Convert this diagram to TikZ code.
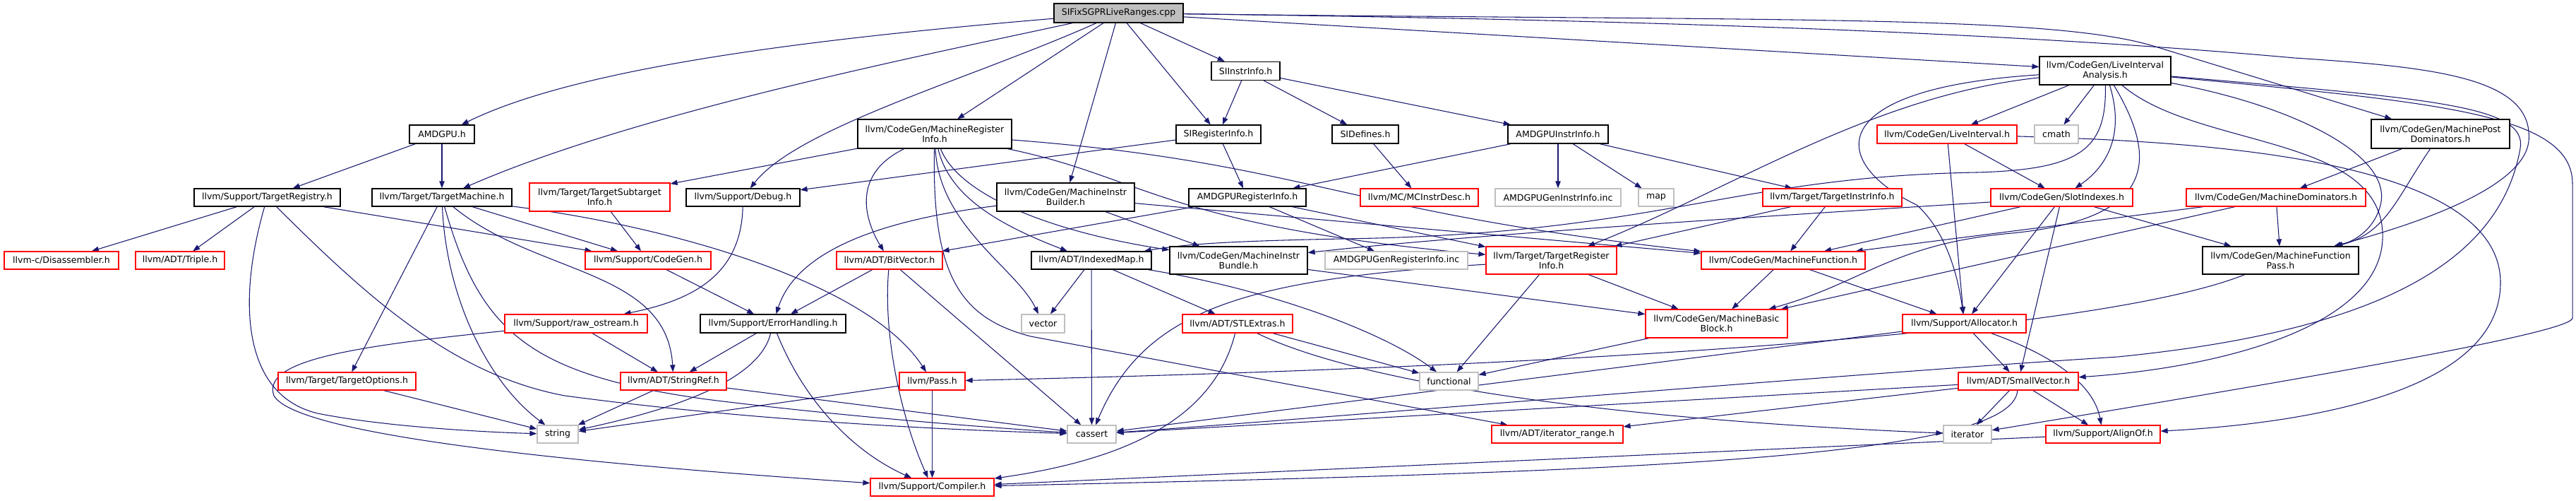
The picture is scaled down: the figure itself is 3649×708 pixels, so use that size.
\documentclass[tikz,border=0pt]{standalone}
\usepackage{fontspec}
\setmainfont{DejaVu Sans}
\usetikzlibrary{arrows.meta}
\pgfdeclarelayer{edgelayer}
\pgfsetlayers{edgelayer,main}
\newdimen\pxu \pxu=0.75pt
\newcommand\dxf{\fontsize{9.4}{10.5}\selectfont}
\definecolor{edgec}{HTML}{191970}
\definecolor{gbord}{HTML}{BFBFBF}
\tikzset{
 nb/.style={draw=black, fill=white, line width=0.9pt, inner sep=0pt, align=center, font=\dxf},
 nr/.style={nb, draw=red},
 ng/.style={nb, draw=gbord},
 bx/.style 2 args={minimum width=#1\pxu, minimum height=#2\pxu},
 e/.style={draw=edgec, line width=0.8pt, -{Triangle[length=7.5pt,width=5.5pt]}},
}
\begin{document}
\begin{tikzpicture}[x=0.75pt,y=-0.75pt]
\begin{pgfonlayer}{edgelayer}
\fill[white] (0,0) rectangle (3649,708);
\end{pgfonlayer}
\useasboundingbox (0,0) rectangle (3649,708);
% nodes
\node[nb, fill=gbord, bx={183}{27}] (R) at (1584.5,18.5) {SIFixSGPRLiveRanges.cpp};
\node[nb, bx={92}{26}] (AMD) at (626,190) {AMDGPU.h};
\node[nb, bx={207}{25}] (TR) at (378.5,279.5) {llvm/Support/TargetRegistry.h};
\node[nb, bx={198}{25}] (TM) at (626,279.5) {llvm/Target/TargetMachine.h};
\node[nr, bx={199}{40}] (TSI) at (849.5,279) {llvm/Target/TargetSubtarget\\Info.h};
\node[nb, bx={161}{25}] (DBG) at (1052.5,279.5) {llvm/Support/Debug.h};
\node[nb, bx={218}{41}] (MRI) at (1324,189.5) {llvm/CodeGen/MachineRegister\\Info.h};
\node[nb, bx={97}{26}] (SII) at (1764.5,100.5) {SIInstrInfo.h};
\node[nb, bx={120}{26}] (SRI) at (1726,190) {SIRegisterInfo.h};
\node[nb, bx={94}{26}] (SID) at (1934,190) {SIDefines.h};
\node[nb, bx={142}{26}] (AII) at (2207,190) {AMDGPUInstrInfo.h};
\node[nb, bx={195}{40}] (MIB) at (1509.5,279) {llvm/CodeGen/MachineInstr\\Builder.h};
\node[nb, bx={166}{25}] (ARI) at (1767,279.5) {AMDGPURegisterInfo.h};
\node[nr, bx={167}{25}] (MCID) at (2010.5,279.5) {llvm/MC/MCInstrDesc.h};
\node[ng, bx={178}{25}] (AGII) at (2207,279.5) {AMDGPUGenInstrInfo.inc};
\node[ng, bx={50}{25}] (MAP) at (2346,279.5) {map};
\node[nb, bx={186}{40}] (LIA) at (2982,100) {llvm/CodeGen/LiveInterval\\Analysis.h};
\node[nr, bx={198}{26}] (LI) at (2758,190) {llvm/CodeGen/LiveInterval.h};
\node[ng, bx={62}{26}] (CMATH) at (2913,190) {cmath};
\node[nb, bx={196}{41}] (MPD) at (3457,189.5) {llvm/CodeGen/MachinePost\\Dominators.h};
\node[nr, bx={197}{25}] (TII) at (2595.5,279.5) {llvm/Target/TargetInstrInfo.h};
\node[nr, bx={201}{25}] (SLOT) at (2920.5,279.5) {llvm/CodeGen/SlotIndexes.h};
\node[nr, bx={254}{25}] (MDOM) at (3224,279.5) {llvm/CodeGen/MachineDominators.h};
\node[nr, bx={162}{25}] (DIS) at (87,368.5) {llvm-c/Disassembler.h};
\node[nr, bx={126}{25}] (TRIP) at (255,368.5) {llvm/ADT/Triple.h};
\node[nr, bx={178}{25}] (CG) at (918,368.5) {llvm/Support/CodeGen.h};
\node[nr, bx={150}{25}] (BV) at (1260,368.5) {llvm/ADT/BitVector.h};
\node[nb, bx={170}{25}] (IM) at (1546,368.5) {llvm/ADT/IndexedMap.h};
\node[nb, bx={195}{39}] (MIBUN) at (1754.5,368.5) {llvm/CodeGen/MachineInstr\\Bundle.h};
\node[ng, bx={202}{25}] (AGRI) at (1978,368.5) {AMDGPUGenRegisterInfo.inc};
\node[nr, bx={185}{39}] (TRI) at (2197.5,368.5) {llvm/Target/TargetRegister\\Info.h};
\node[nr, bx={232}{25}] (MF) at (2526,368.5) {llvm/CodeGen/MachineFunction.h};
\node[nb, bx={221}{39}] (MFP) at (3230.5,368.5) {llvm/CodeGen/MachineFunction\\Pass.h};
\node[nr, bx={202}{26}] (RAW) at (816,458) {llvm/Support/raw\_ostream.h};
\node[nb, bx={206}{26}] (EH) at (1095,458) {llvm/Support/ErrorHandling.h};
\node[ng, bx={61}{26}] (VEC) at (1477.5,458) {vector};
\node[nr, bx={156}{26}] (STL) at (1753,458) {llvm/ADT/STLExtras.h};
\node[nr, bx={201}{40}] (MBB) at (2431.5,458) {llvm/CodeGen/MachineBasic\\Block.h};
\node[nr, bx={175}{26}] (ALLOC) at (2782.5,458) {llvm/Support/Allocator.h};
\node[nr, bx={195}{25}] (TO) at (491.5,539.5) {llvm/Target/TargetOptions.h};
\node[nr, bx={150}{25}] (SR) at (954,539.5) {llvm/ADT/StringRef.h};
\node[nr, bx={93}{25}] (PASS) at (1320.5,539.5) {llvm/Pass.h};
\node[ng, bx={83}{25}] (FUNC) at (2052.5,539.5) {functional};
\node[nr, bx={170}{25}] (SV) at (2859,539.5) {llvm/ADT/SmallVector.h};
\node[ng, bx={58}{25}] (STR) at (790,614.5) {string};
\node[ng, bx={69}{25}] (CASS) at (1546.5,614.5) {cassert};
\node[nr, bx={186}{25}] (ITR) at (2206,614.5) {llvm/ADT/iterator\_range.h};
\node[ng, bx={68}{25}] (ITER) at (2787,614.5) {iterator};
\node[nr, bx={162}{25}] (ALIGN) at (2979,614.5) {llvm/Support/AlignOf.h};
\node[nr, bx={175}{25}] (COMP) at (1320.5,689.5) {llvm/Support/Compiler.h};
\begin{pgfonlayer}{edgelayer}
% edges from root
\draw[e] (R) .. controls (1150,55) and (820,95) .. (AMD);
\draw[e] (R) .. controls (1300,80) and (900,160) .. (TM);
\draw[e] (R) .. controls (1380,110) and (1130,180) .. (DBG);
\draw[e] (R) -- (MRI);
\draw[e] (R) -- (MIB);
\draw[e] (R) -- (SRI);
\draw[e] (R) -- (SII);
\draw[e] (R) -- (LIA);
\draw[e] (R) .. controls (2500,30) and (2900,20) .. (3050,65) -- (MPD);
\draw[e] (R) .. controls (2500,30) and (2950,55) .. (3250,82) .. controls (3450,95) and (3590,110) .. (3582,200) .. controls (3575,260) and (3450,310) .. (MFP);
% LiveIntervalAnalysis
\draw[e] (LIA) -- (LI);
\draw[e] (LIA) -- (CMATH);
\draw[e] (LIA) .. controls (3010,190) and (2985,235) .. (SLOT);
\draw[e] (LIA) .. controls (2984,210) and (2950,240) .. (2800,244) .. controls (2450,250) and (2350,332) .. (1900,338) .. controls (1750,341) and (1680,345) .. (IM);
\draw[e] (LIA) .. controls (2650,135) and (2450,270) .. (TRI);
\draw[e] (LIA) .. controls (2580,125) and (2590,230) .. (2715,290) .. controls (2760,330) and (2775,400) .. (ALLOC);
\draw[e] (LIA) .. controls (3060,230) and (3050,310) .. (2850,330) .. controls (2680,345) and (2640,400) .. (MBB);
\draw[e] (LIA) .. controls (3250,150) and (3390,220) .. (3372,290) .. controls (3365,320) and (3340,340) .. (MFP);
\draw[e] (LIA) .. controls (3450,145) and (3644,160) .. (3644,260) -- (3644,450) .. controls (3644,470) and (3300,530) .. (ITER);
\draw[e] (LIA) .. controls (3450,140) and (3580,150) .. (3570,210) .. controls (3540,380) and (3350,470) .. (3000,505) .. controls (2600,530) and (1900,590) .. (CASS);
\draw[e] (LIA) .. controls (3110,210) and (3370,190) .. (3375,330) .. controls (3380,460) and (3150,520) .. (SV);
% LiveInterval
\draw[e] (LI) -- (SLOT);
\draw[e] (LI) -- (ALLOC);
\draw[e] (LI) .. controls (3100,200) and (3542,220) .. (3542,400) .. controls (3542,560) and (3250,600) .. (ALIGN);
% post dominators, dominators
\draw[e] (MPD) -- (MDOM);
\draw[e] (MPD) .. controls (3395,280) and (3380,330) .. (MFP);
\draw[e] (MDOM) -- (MF);
\draw[e] (MDOM) -- (MBB);
\draw[e] (MDOM) -- (MFP);
% slot indexes
\draw[e] (SLOT) -- (MF);
\draw[e] (SLOT) -- (MFP);
\draw[e] (SLOT) -- (ALLOC);
\draw[e] (SLOT) -- (SV);
\draw[e] (SLOT) .. controls (2600,300) and (2100,330) .. (MIBUN);
% instr info
\draw[e] (TII) -- (TRI);
\draw[e] (TII) -- (MF);
\draw[e] (AII) -- (ARI);
\draw[e] (AII) -- (AGII);
\draw[e] (AII) -- (MAP);
\draw[e] (AII) -- (TII);
\draw[e] (SII) -- (SRI);
\draw[e] (SII) -- (SID);
\draw[e] (SII) -- (AII);
\draw[e] (SRI) -- (DBG);
\draw[e] (SRI) -- (ARI);
\draw[e] (SID) -- (MCID);
\draw[e] (ARI) -- (BV);
\draw[e] (ARI) -- (AGRI);
\draw[e] (ARI) -- (TRI);
% instr builder
\draw[e] (MIB) -- (MIBUN);
\draw[e] (MIB) -- (MF);
\draw[e] (MIB) .. controls (1260,310) and (1130,350) .. (EH);
% machine register info
\draw[e] (MRI) -- (TSI);
\draw[e] (MRI) .. controls (1200,250) and (1230,320) .. (BV);
\draw[e] (MRI) .. controls (1345,280) and (1420,320) .. (IM);
\draw[e] (MRI) .. controls (1330,320) and (1440,380) .. (VEC);
\draw[e] (MRI) .. controls (1320,390) and (1360,450) .. (1460,476) -- (ITR);
\draw[e] (MRI) .. controls (1360,280) and (1500,330) .. (MIBUN);
\draw[e] (MRI) .. controls (1850,230) and (1900,300) .. (MF);
\draw[e] (MRI) .. controls (1620,250) and (1650,320) .. (TRI);
% target machine / registry
\draw[e] (AMD) -- (TR);
\draw[e] (AMD) -- (TM);
\draw[e] (TM) -- (TO);
\draw[e] (TM) .. controls (632,420) and (690,540) .. (STR);
\draw[e] (TM) .. controls (680,470) and (750,530) .. (1000,565) .. controls (1200,590) and (1400,605) .. (CASS);
\draw[e] (TM) .. controls (760,390) and (945,380) .. (SR);
\draw[e] (TM) -- (CG);
\draw[e] (TM) .. controls (950,320) and (1230,400) .. (PASS);
\draw[e] (TR) -- (DIS);
\draw[e] (TR) -- (TRIP);
\draw[e] (TR) -- (CG);
\draw[e] (TR) .. controls (335,430) and (345,560) .. (450,585) .. controls (550,605) and (700,612) .. (STR);
\draw[e] (TR) .. controls (520,420) and (640,530) .. (800,560) .. controls (1100,600) and (1400,610) .. (CASS);
\draw[e] (TSI) -- (CG);
\draw[e] (DBG) .. controls (1050,390) and (980,425) .. (RAW);
\draw[e] (RAW) -- (SR);
\draw[e] (RAW) .. controls (500,490) and (370,510) .. (388,560) .. controls (420,615) and (800,655) .. (COMP);
\draw[e] (EH) -- (SR);
\draw[e] (EH) .. controls (1075,540) and (950,580) .. (STR);
\draw[e] (EH) .. controls (1140,570) and (1210,640) .. (COMP);
\draw[e] (CG) -- (EH);
\draw[e] (SR) -- (STR);
\draw[e] (SR) -- (CASS);
\draw[e] (TO) -- (STR);
\draw[e] (PASS) -- (STR);
\draw[e] (PASS) -- (COMP);
% ADT
\draw[e] (BV) -- (EH);
\draw[e] (BV) .. controls (1250,480) and (1280,600) .. (COMP);
\draw[e] (BV) -- (CASS);
\draw[e] (IM) -- (VEC);
\draw[e] (IM) -- (CASS);
\draw[e] (IM) -- (STL);
\draw[e] (IM) .. controls (1800,410) and (1960,470) .. (FUNC);
\draw[e] (STL) -- (FUNC);
\draw[e] (STL) .. controls (1900,530) and (2200,590) .. (ITER);
\draw[e] (STL) .. controls (1720,590) and (1600,650) .. (COMP);
\draw[e] (MIBUN) -- (MBB);
\draw[e] (TRI) -- (MBB);
\draw[e] (TRI) .. controls (1760,395) and (1620,440) .. (CASS);
\draw[e] (TRI) -- (FUNC);
\draw[e] (MF) -- (MBB);
\draw[e] (MF) -- (ALLOC);
\draw[e] (MBB) -- (FUNC);
\draw[e] (MFP) .. controls (3000,460) and (2400,515) .. (PASS);
\draw[e] (ALLOC) -- (SV);
\draw[e] (ALLOC) .. controls (2900,500) and (2965,540) .. (ALIGN);
\draw[e] (ALLOC) -- (CASS);
\draw[e] (SV) -- (ITER);
\draw[e] (SV) -- (ALIGN);
\draw[e] (SV) -- (CASS);
\draw[e] (SV) -- (ITR);
\draw[e] (SV) .. controls (2850,650) and (2300,668) .. (COMP);
\draw[e] (ALIGN) -- (COMP);
\end{pgfonlayer}
\end{tikzpicture}
\end{document}
